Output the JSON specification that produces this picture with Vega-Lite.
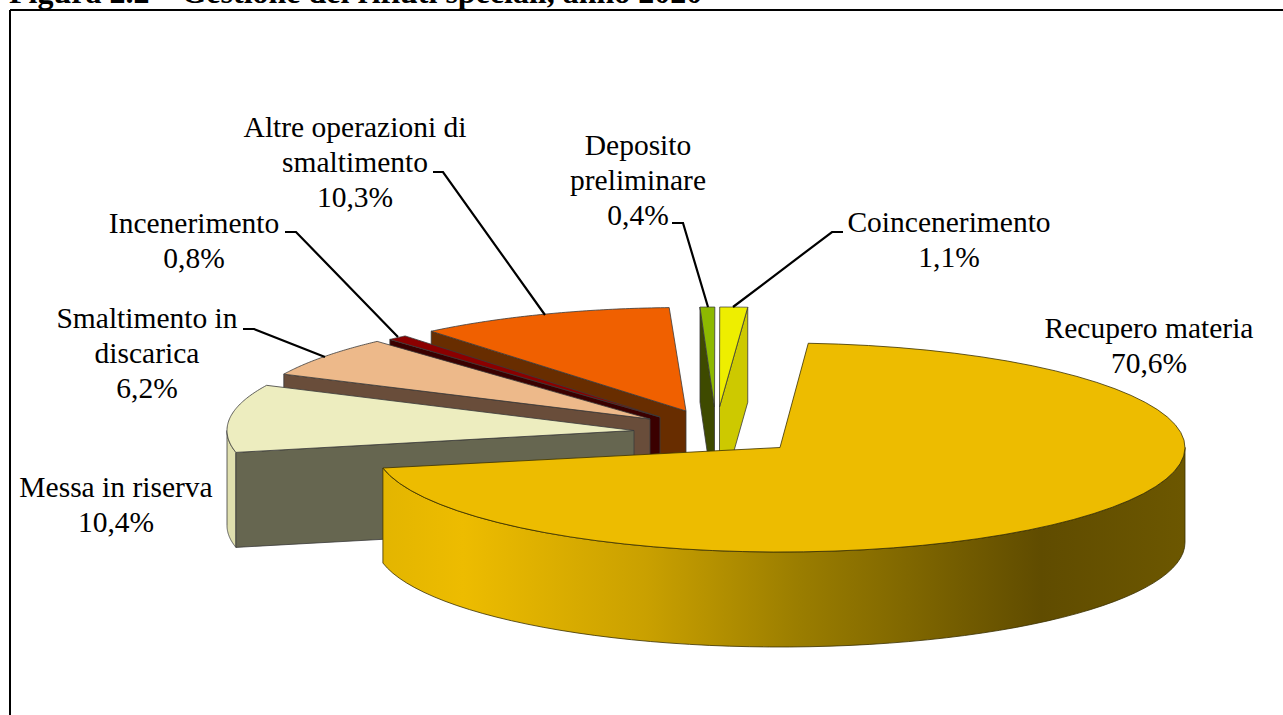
{
"$schema":"https://vega.github.io/schema/vega-lite/v6.json",
"width":1283,"height":715,"padding":0,"autosize":{"type":"none"},
"background":"white",
"view":{"stroke":null},
"config":{"view":{"stroke":null}},
"title":{"text":"Figura 2.2 –    Gestione dei rifiuti speciali, anno 2020","anchor":"start","frame":"group","offset":-10,"dx":9,"font":"Liberation Serif","fontSize":32,"fontWeight":"bold","color":"#000000"},
"params":[{"name":"geo","value":{
"Coincenerimento":{"cx":719.5,"cy":407,"a":405,"b":100,"rot":0,"parts":["end","top"],"label":"Coincenerimento","lx":949,"ly":232,"leader":[[0,843,232],[1,832,232],[2,733,307]]},
"Deposito preliminare":{"cx":714.5,"cy":407,"a":590,"b":100,"rot":0,"parts":["start","top"],"label":"Deposito|preliminare","lx":638,"ly":155,"leader":[[0,672,223],[1,683,223],[2,708,307]]},
"Altre operazioni di smaltimento":{"cx":686,"cy":411,"a":400,"b":103.5,"rot":-1,"parts":["start","top"],"label":"Altre operazioni di|smaltimento","lx":355,"ly":137,"leader":[[0,433,172],[1,443,172],[2,545,315]]},
"Incenerimento":{"cx":660,"cy":417,"a":401,"b":105,"rot":-0.9,"parts":["start","top"],"label":"Incenerimento","lx":194,"ly":233,"leader":[[0,285,232],[1,296,232],[2,398,337]]},
"Smaltimento in discarica":{"cx":650,"cy":419,"a":405,"b":105,"rot":-0.9,"parts":["start","top"],"label":"Smaltimento in|discarica","lx":147,"ly":328,"leader":[[0,243,329],[1,254,329],[2,325,357]]},
"Messa in riserva":{"cx":634,"cy":430.5,"a":407,"b":105,"rot":-0.7,"parts":["outer","start","top"],"label":"Messa in riserva","lx":116,"ly":497,"leader":[]},
"Recupero materia":{"cx":780,"cy":447.5,"a":405,"b":104.5,"rot":0,"parts":["outer","top"],"label":"Recupero materia","lx":1149,"ly":338,"leader":[]}
}}],
"data":{"values":[
{"categoria":"Coincenerimento","quota":1.1},
{"categoria":"Deposito preliminare","quota":0.4},
{"categoria":"Altre operazioni di smaltimento","quota":10.3},
{"categoria":"Incenerimento","quota":0.8},
{"categoria":"Smaltimento in discarica","quota":6.2},
{"categoria":"Messa in riserva","quota":10.4},
{"categoria":"Recupero materia","quota":70.6}
]},
"transform":[
{"window":[{"op":"sum","field":"quota","as":"cum"}],"ignorePeers":true},
{"joinaggregate":[{"op":"sum","field":"quota","as":"tot"}]},
{"calculate":"geo[datum.categoria]","as":"g"},
{"calculate":"364-datum.cum*360/datum.tot+datum.g.rot","as":"t0"},
{"calculate":"364-(datum.cum-datum.quota)*360/datum.tot+datum.g.rot","as":"t1"}
],
"layer":[
{"mark":{"type":"rule","color":"#000000","strokeWidth":1.2},
 "encoding":{"x":{"datum":10,"type":"quantitative","scale":{"domain":[0,1283],"range":[0,1283],"nice":false,"zero":false},"axis":null},"y":{"datum":10,"type":"quantitative","scale":{"domain":[0,715],"range":[0,715],"nice":false,"zero":false},"axis":null},"y2":{"datum":715}}},
{"mark":{"type":"rule","color":"#000000","strokeWidth":1.2},
 "encoding":{"x":{"datum":10,"type":"quantitative","scale":{"domain":[0,1283],"range":[0,1283],"nice":false,"zero":false},"axis":null},"x2":{"datum":1283},"y":{"datum":10,"type":"quantitative","scale":{"domain":[0,715],"range":[0,715],"nice":false,"zero":false},"axis":null}}},
{"transform":[
 {"calculate":"datum.g.parts","as":"part"},
 {"flatten":["part"]},
 {"calculate":"sequence(0,120)","as":"i"},
 {"flatten":["i"]},
 {"filter":"datum.part=='top' ? datum.i<=60 : (datum.part=='outer' ? true : datum.i<=3)"},
 {"calculate":"datum.part=='top' ? datum.i==0 : (datum.part=='outer' ? false : (datum.i==0||datum.i==3))","as":"isApex"},
 {"calculate":"datum.part=='outer' ? max(datum.t0,90) : datum.t0","as":"o0"},
 {"calculate":"datum.part=='outer' ? min(datum.t1,270) : datum.t1","as":"o1"},
 {"calculate":"datum.part=='top' ? datum.o0+(datum.o1-datum.o0)*(datum.i-1)/59 : (datum.part=='start' ? datum.o0 : (datum.part=='end' ? datum.o1 : (datum.i<60 ? datum.o0+(datum.o1-datum.o0)*datum.i/59 : datum.o1-(datum.o1-datum.o0)*(datum.i-60)/59)))","as":"th"},
 {"calculate":"datum.part=='top' ? 0 : (datum.part=='outer' ? (datum.i<60 ? 0 : 95) : (datum.i>=2 ? 95 : 0))","as":"dz"},
 {"calculate":"datum.isApex ? datum.g.cx : datum.g.cx+datum.g.a*sin(datum.th*PI/180)","as":"px"},
 {"calculate":"(datum.isApex ? datum.g.cy : datum.g.cy-datum.g.b*cos(datum.th*PI/180))+datum.dz","as":"py"},
 {"calculate":"datum.categoria+' '+datum.part","as":"faccia"}
],
"encoding":{
 "x":{"field":"px","type":"quantitative","scale":{"domain":[0,1283],"range":[0,1283],"nice":false,"zero":false},"axis":null},
 "y":{"field":"py","type":"quantitative","scale":{"domain":[0,715],"range":[0,715],"nice":false,"zero":false},"axis":null},
 "order":{"field":"i","type":"quantitative"},
 "detail":{"field":"faccia"}
},
"layer":[
 {"transform":[{"filter":"datum.categoria!='Recupero materia'"}],
  "mark":{"type":"line","interpolate":"linear-closed","stroke":"#3a3a3a","strokeWidth":0.8},
  "encoding":{"fill":{"field":"faccia","type":"nominal","legend":null,"scale":{
    "domain":["Coincenerimento end","Coincenerimento top","Deposito preliminare start","Deposito preliminare top","Altre operazioni di smaltimento start","Altre operazioni di smaltimento top","Incenerimento start","Incenerimento top","Smaltimento in discarica start","Smaltimento in discarica top","Messa in riserva outer","Messa in riserva start","Messa in riserva top"],
    "range":["#CDC900","#EEEE00","#3E4A00","#8DB900","#682D00","#F06000","#3A0000","#8B0000","#694D3A","#EDB98A","#DFDFAE","#666650","#EDEDBF"]}}}},
 {"transform":[{"filter":"datum.faccia=='Recupero materia outer'"}],
  "mark":{"type":"line","interpolate":"linear-closed","stroke":"#3a3000","strokeWidth":0.8,
   "fill":{"x1":0,"y1":0,"x2":1,"y2":0,"gradient":"linear","stops":[{"offset":0,"color":"#E3B500"},{"offset":0.1,"color":"#EDBC00"},{"offset":0.33,"color":"#C9A000"},{"offset":0.52,"color":"#9A7D00"},{"offset":0.82,"color":"#604C00"},{"offset":1,"color":"#6C5700"}]}}},
 {"transform":[{"filter":"datum.faccia=='Recupero materia top'"}],
  "mark":{"type":"line","interpolate":"linear-closed","stroke":"#3a3000","strokeWidth":0.8,"fill":"#EDBC00"}}
]},
{"transform":[
 {"calculate":"datum.g.leader","as":"p"},
 {"flatten":["p"]},
 {"filter":"isValid(datum.p)"},
 {"calculate":"datum.p[0]","as":"n"},
 {"calculate":"datum.p[1]","as":"lpx"},
 {"calculate":"datum.p[2]","as":"lpy"}
],
"mark":{"type":"line","color":"#000000","strokeWidth":2.2},
"encoding":{
 "x":{"field":"lpx","type":"quantitative","scale":{"domain":[0,1283],"range":[0,1283],"nice":false,"zero":false},"axis":null},
 "y":{"field":"lpy","type":"quantitative","scale":{"domain":[0,715],"range":[0,715],"nice":false,"zero":false},"axis":null},
 "order":{"field":"n","type":"quantitative"},
 "detail":{"field":"categoria"}
}},
{"transform":[
 {"calculate":"split(datum.g.label+'|'+replace(format(datum.quota,'.1f'),'.',',')+'%','|')","as":"righe"},
 {"calculate":"datum.g.lx","as":"tx"},
 {"calculate":"datum.g.ly","as":"ty"}
],
"mark":{"type":"text","font":"Liberation Serif","fontSize":29.5,"lineHeight":35,"align":"center","baseline":"alphabetic","color":"#000000"},
"encoding":{
 "x":{"field":"tx","type":"quantitative","scale":{"domain":[0,1283],"range":[0,1283],"nice":false,"zero":false},"axis":null},
 "y":{"field":"ty","type":"quantitative","scale":{"domain":[0,715],"range":[0,715],"nice":false,"zero":false},"axis":null},
 "text":{"field":"righe"}
}}
]
}
